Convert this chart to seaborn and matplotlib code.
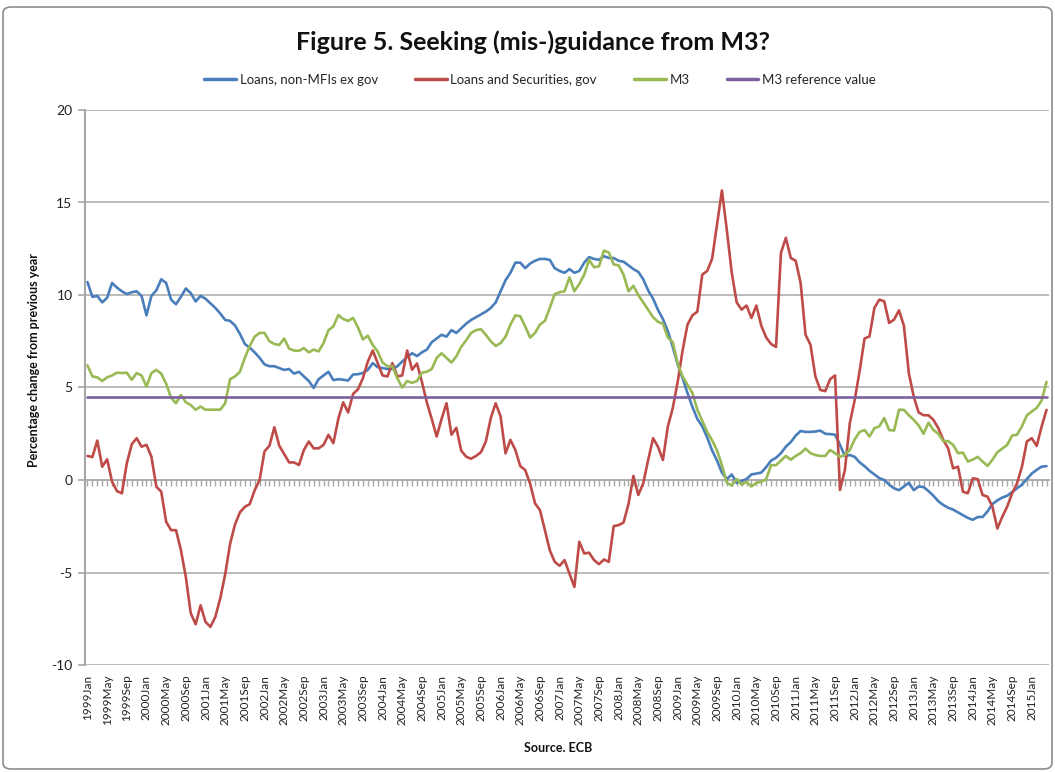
import numpy as np
import pandas as pd
import matplotlib
matplotlib.use("Agg")
import matplotlib.pyplot as plt
import seaborn as sns
from matplotlib.patches import FancyBboxPatch

# ---------------- data (monthly, 1999Jan .. 2015Apr) ----------------
start_year = 1999
month_names = ["Jan", "Feb", "Mar", "Apr", "May", "Jun",
               "Jul", "Aug", "Sep", "Oct", "Nov", "Dec"]

loans_non_mfi = [
    10.7, 9.9, 9.95, 9.6, 9.85, 10.65, 10.4, 10.2, 10.05, 10.15, 10.2, 9.95,
    8.9, 9.95, 10.25, 10.85, 10.65, 9.75, 9.5, 9.9, 10.35, 10.1, 9.65, 9.95,
    9.8, 9.55, 9.3, 9.0, 8.65, 8.6, 8.35, 7.9, 7.35, 7.15, 6.9, 6.6,
    6.25, 6.15, 6.15, 6.05, 5.95, 6.0, 5.75, 5.85, 5.6, 5.35, 4.98, 5.45,
    5.65, 5.85, 5.4, 5.45, 5.42, 5.38, 5.7, 5.72, 5.78, 5.95, 6.32, 6.1,
    6.05, 6.0, 6.0, 6.15, 6.4, 6.65, 6.85, 6.7, 6.9, 7.05, 7.45, 7.65,
    7.85, 7.75, 8.1, 7.95, 8.2, 8.45, 8.65, 8.8, 8.95, 9.1, 9.3, 9.6,
    10.2, 10.8, 11.2, 11.75, 11.75, 11.45, 11.7, 11.85, 11.95, 11.95, 11.9, 11.45,
    11.3, 11.2, 11.4, 11.2, 11.3, 11.75, 12.05, 11.95, 11.9, 12.1, 12.0, 12.0,
    11.85, 11.8, 11.6, 11.4, 11.25, 10.85, 10.25, 9.8, 9.2, 8.7, 8.05, 7.2,
    6.25, 5.5, 4.7, 3.95, 3.3, 2.9, 2.3, 1.6, 1.05, 0.4, 0.05, 0.3,
    -0.15, -0.05, 0.05, 0.3, 0.35, 0.4, 0.7, 1.05, 1.2, 1.45, 1.8, 2.05,
    2.4, 2.65, 2.6, 2.6, 2.62, 2.67, 2.5, 2.48, 2.45, 1.9, 1.3, 1.35,
    1.25, 0.95, 0.75, 0.5, 0.3, 0.1, 0.0, -0.25, -0.45, -0.55, -0.35, -0.15,
    -0.55, -0.35, -0.38, -0.6, -0.85, -1.15, -1.35, -1.5, -1.6, -1.75, -1.9, -2.05,
    -2.15, -2.0, -2.0, -1.7, -1.3, -1.1, -0.95, -0.85, -0.65, -0.45, -0.25, 0.05,
    0.35, 0.55, 0.72, 0.75,
]

loans_sec_gov = [
    1.3, 1.24, 2.13, 0.72, 1.12, -0.09, -0.6, -0.72, 0.9, 1.93, 2.26, 1.8,
    1.9, 1.26, -0.36, -0.63, -2.26, -2.71, -2.71, -3.79, -5.24, -7.2, -7.8, -6.77,
    -7.67, -7.94, -7.4, -6.4, -5.1, -3.45, -2.4, -1.75, -1.45, -1.3, -0.55, 0.0,
    1.55, 1.85, 2.85, 1.85, 1.4, 0.95, 0.95, 0.81, 1.62, 2.08, 1.71, 1.71,
    1.9, 2.44, 1.99, 3.3, 4.2, 3.65, 4.65, 4.9, 5.5, 6.4, 7.0, 6.32,
    5.65, 5.6, 6.32, 5.6, 5.65, 7.0, 5.96, 6.3, 5.3, 4.2, 3.3, 2.35,
    3.3, 4.15, 2.45, 2.82, 1.58, 1.26, 1.15, 1.3, 1.5, 2.08, 3.34, 4.15,
    3.43, 1.44, 2.17, 1.62, 0.75, 0.54, -0.2, -1.26, -1.63, -2.7, -3.8, -4.42,
    -4.64, -4.33, -5.06, -5.78, -3.34, -3.97, -3.93, -4.33, -4.55, -4.3, -4.42, -2.49,
    -2.44, -2.3, -1.3, 0.22, -0.81, -0.18, 1.08, 2.26, 1.8, 1.08, 2.89, 3.88,
    5.3, 7.0, 8.4, 8.9, 9.1, 11.1, 11.3, 11.95, 13.8, 15.65, 13.5, 11.2,
    9.6, 9.21, 9.43, 8.76, 9.43, 8.34, 7.7, 7.35, 7.19, 12.28, 13.09, 12.0,
    11.85, 10.65, 7.85, 7.31, 5.6, 4.87, 4.8, 5.45, 5.65, -0.54, 0.54, 3.07,
    4.33, 5.9, 7.65, 7.76, 9.3, 9.75, 9.66, 8.49, 8.67, 9.17, 8.34, 5.78,
    4.5, 3.65, 3.5, 3.5, 3.25, 2.8, 2.17, 1.71, 0.63, 0.72, -0.63, -0.72,
    0.09, 0.05, -0.81, -0.9, -1.44, -2.62, -1.99, -1.44, -0.72, -0.18, 0.72, 2.08,
    2.26, 1.84, 2.89, 3.79,
]

m3 = [
    6.2, 5.6, 5.55, 5.35, 5.55, 5.65, 5.8, 5.78, 5.8, 5.42, 5.78, 5.65,
    5.05, 5.78, 5.95, 5.75, 5.2, 4.45, 4.15, 4.6, 4.2, 4.05, 3.8, 3.97,
    3.8, 3.8, 3.8, 3.8, 4.15, 5.45, 5.6, 5.85, 6.6, 7.25, 7.75, 7.95,
    7.95, 7.5, 7.35, 7.3, 7.65, 7.1, 7.0, 6.98, 7.13, 6.9, 7.05, 6.95,
    7.4, 8.1, 8.3, 8.92, 8.7, 8.6, 8.76, 8.25, 7.6, 7.8, 7.3, 6.95,
    6.35, 6.15, 6.15, 5.5, 5.0, 5.35, 5.25, 5.35, 5.8, 5.85, 6.0, 6.6,
    6.85, 6.6, 6.35, 6.68, 7.2, 7.55, 7.95, 8.1, 8.15, 7.85, 7.5, 7.25,
    7.4, 7.75, 8.4, 8.9, 8.85, 8.3, 7.7, 7.95, 8.4, 8.6, 9.3, 10.05,
    10.15, 10.2, 10.95, 10.2, 10.6, 11.1, 11.9, 11.5, 11.55, 12.4, 12.3, 11.65,
    11.6, 11.1, 10.2, 10.5, 10.0, 9.6, 9.2, 8.8, 8.55, 8.45, 7.7, 7.45,
    6.3, 5.6, 5.15, 4.7, 3.8, 3.2, 2.6, 2.15, 1.6, 0.8, -0.15, -0.3,
    0.05, -0.25, -0.1, -0.35, -0.15, -0.1, 0.05, 0.8, 0.8, 1.05, 1.3, 1.1,
    1.3, 1.45, 1.7, 1.45, 1.35, 1.3, 1.3, 1.62, 1.45, 1.25, 1.35, 1.62,
    2.2, 2.6, 2.7, 2.35, 2.8, 2.9, 3.35, 2.7, 2.67, 3.8, 3.79, 3.5,
    3.25, 2.95, 2.5, 3.1, 2.7, 2.5, 2.1, 2.1, 1.9, 1.45, 1.48, 1.0,
    1.1, 1.25, 1.0, 0.76, 1.1, 1.5, 1.7, 1.9, 2.4, 2.45, 2.9, 3.5,
    3.7, 3.9, 4.3, 5.3,
]

m3_reference_value = 4.5

series_names = ["Loans, non-MFIs ex gov", "Loans and Securities, gov",
                "M3", "M3 reference value"]
series_colors = ["#4A7EBB", "#BE4B48", "#98B954", "#7D60A0"]

n = len(m3)
period_labels = [f"{start_year + k // 12}{month_names[k % 12]}" for k in range(n)]
idx = np.arange(n)

frames = []
for name, vals in zip(series_names,
                      [loans_non_mfi, loans_sec_gov, m3, [m3_reference_value] * n]):
    frames.append(pd.DataFrame({"idx": idx, "value": vals, "series": name}))
df = pd.concat(frames, ignore_index=True)

# ---------------- plotting ----------------
sns.set_theme(style="white")
plt.rcParams["font.family"] = ["Lato", "DejaVu Sans"]

W, H = 1055, 772
fig = plt.figure(figsize=(W / 100, H / 100), dpi=100)
ax = fig.add_axes([85 / W, 1 - 665 / H, (1049 - 85) / W, (665 - 110) / H])

sns.lineplot(data=df, x="idx", y="value", hue="series",
             hue_order=series_names, palette=series_colors,
             linewidth=1.9, ax=ax, legend=True)

ax.set_xlim(-0.5, n - 0.5)
ax.set_ylim(-10, 20)
ax.set_yticks([-10, -5, 0, 5, 10, 15, 20])
ax.set_yticklabels(["-10", "-5", "0", "5", "10", "15", "20"], fontsize=10, color="#222222")

grid_c = "#B5B5B5"
ax.grid(False)
for yv in [-10, -5, 5, 10, 15, 20]:
    ax.axhline(yv, color=grid_c, lw=1.3, zorder=0)

for s in ["top", "right", "bottom"]:
    ax.spines[s].set_visible(False)
ax.spines["left"].set_color("#A6A6A6")
ax.spines["left"].set_linewidth(1.5)
ax.tick_params(axis="y", which="both", left=True, length=5, width=1.2,
               color="#A6A6A6", direction="out", pad=4)

ticks = list(range(0, n, 4))
ax.set_xticks(ticks)
ax.set_xticklabels([period_labels[t] for t in ticks], rotation=90,
                   fontsize=8.5, color="#222222")
ax.tick_params(axis="x", length=0, pad=7)

# category axis crossing at zero with a tick per month
sec = ax.secondary_xaxis((0 - (-10)) / 30)
sec.set_xticks(idx)
sec.tick_params(axis="x", length=4.5, width=1.0, color="#A6A6A6",
                direction="out", labelbottom=False, labeltop=False)
sec.spines["bottom"].set_color("#A6A6A6")
sec.spines["bottom"].set_linewidth(1.3)
for s in ["top", "left", "right"]:
    sec.spines[s].set_visible(False)

ax.set_ylabel("Percentage change from previous year", fontsize=9,
              fontweight="bold", color="#111111")
ax.yaxis.set_label_coords(-0.047, 0.55)
ax.set_xlabel("Source. ECB", fontsize=9, fontweight="bold", color="#111111")
ax.xaxis.set_label_coords((558 - 85) / 964, -(742 - 665) / 555)

sns.move_legend(ax, "center", bbox_to_anchor=(540 / W, 1 - 80 / H),
                bbox_transform=fig.transFigure, ncol=4, frameon=False,
                title=None, fontsize=9.5, handlelength=2.4, columnspacing=2.8,
                handletextpad=0.3)
leg = ax.get_legend()
for line in leg.get_lines():
    line.set_linewidth(2.5)

fig.text(533 / W, 1 - 42 / H, "Figure 5. Seeking (mis-)guidance from M3?",
         ha="center", va="center", fontsize=18, fontweight="bold", color="#111111")

border = FancyBboxPatch((3 / W, 3 / H), (W - 6) / W, (H - 10) / H,
                        boxstyle="round,pad=0,rounding_size=0.008",
                        transform=fig.transFigure, fill=False,
                        edgecolor="#8C8C8C", linewidth=1.2)
fig.patches.append(border)

fig.savefig("out.png", dpi=100)
